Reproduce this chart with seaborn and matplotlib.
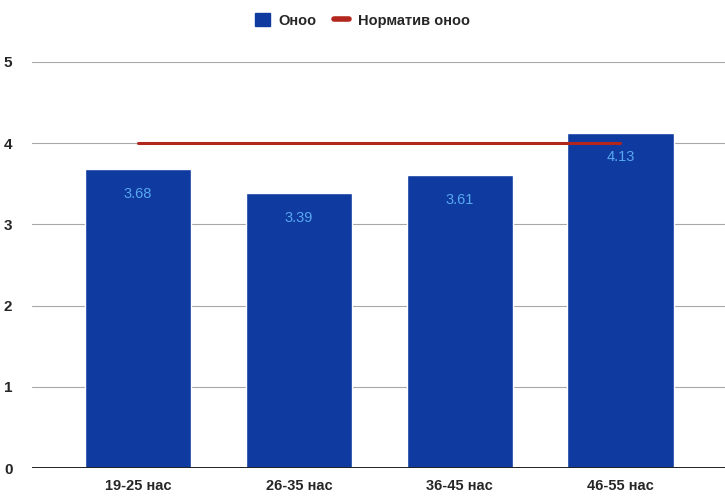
import matplotlib
matplotlib.use("Agg")
import matplotlib.pyplot as plt
import seaborn as sns
import numpy as np
import pandas as pd
from matplotlib.patches import Patch
from matplotlib.lines import Line2D

# Age groups and their scores
categories = ["19-25 нас", "26-35 нас", "36-45 нас", "46-55 нас"]
scores = [3.68, 3.39, 3.61, 4.13]
norm_scores = [4.0, 4.0, 4.0, 4.0]
y_ticks = [0, 1, 2, 3, 4, 5]

bar_color = "#0f3aa0"
norm_color = "#b3261e"
label_color = "#58a8f0"

sns.set_theme(style="white")
plt.rcParams["font.family"] = ["Liberation Sans", "DejaVu Sans"]

fig = plt.figure(figsize=(7.25, 4.99), dpi=100)
ax = fig.add_axes([0.044, 0.062, 0.956, 0.814])

df = pd.DataFrame({"group": categories, "score": scores})
sns.barplot(data=df, x="group", y="score", color=bar_color, saturation=1,
            width=0.66, ax=ax, zorder=2)

# Norm line across the groups
sns.lineplot(x=np.arange(len(categories)), y=norm_scores, color=norm_color,
             linewidth=2.2, ax=ax, zorder=3)

ax.bar_label(ax.containers[0], labels=[f"{v:.2f}" for v in scores],
             padding=-23, color=label_color, fontsize=10.5)

ax.set_ylim(0, 5)
ax.set_xlim(-0.66, 3.65)
ax.set_yticks(y_ticks)
ax.set_yticklabels([str(t) for t in y_ticks], fontsize=11, fontweight="bold")
ax.set_xticks(range(len(categories)))
ax.set_xticklabels(categories, fontsize=10.5, fontweight="bold")
ax.set_xlabel("")
ax.set_ylabel("")
ax.grid(axis="y", color="#a8a8a8", linewidth=0.8, zorder=0)
ax.axhline(0, color="#222222", linewidth=1.4, zorder=4)
ax.tick_params(axis="both", length=0, pad=8)
ax.tick_params(axis="y", pad=14)
for s in ax.spines.values():
    s.set_visible(False)

handles = [Patch(facecolor=bar_color, edgecolor=bar_color, label="Оноо"),
           Line2D([0], [0], color=norm_color, linewidth=4, label="Норматив оноо")]
fig.legend(handles=handles, loc="upper center", bbox_to_anchor=(0.5, 1.0),
           ncol=2, frameon=False, handlelength=1.0,
           handleheight=1.0, columnspacing=1.2, handletextpad=0.6,
           prop={"size": 10.5, "weight": "bold"})

fig.savefig("out.png", dpi=100)
